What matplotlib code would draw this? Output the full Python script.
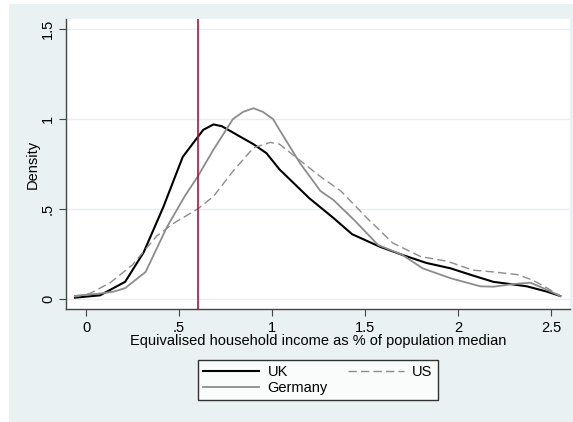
import numpy as np
import matplotlib.pyplot as plt
from matplotlib.patches import Rectangle

plt.rcParams['font.family'] = ['Liberation Sans', 'DejaVu Sans']

# kernel density estimates, read off as (income, density)
uk_x = [-0.06, 0.075, 0.147, 0.21, 0.31, 0.415, 0.52, 0.586, 0.63, 0.685, 0.73, 0.90, 0.97, 1.04, 1.15, 1.20, 1.33, 1.43, 1.58, 1.70, 1.83, 1.96, 2.08, 2.19, 2.30, 2.37, 2.48, 2.55]
uk_y = [0.007, 0.02, 0.06, 0.095, 0.26, 0.51, 0.79, 0.88, 0.94, 0.97, 0.96, 0.86, 0.81, 0.72, 0.61, 0.56, 0.45, 0.36, 0.29, 0.245, 0.20, 0.17, 0.13, 0.095, 0.08, 0.07, 0.04, 0.016]

us_x = [-0.06, 0.02, 0.13, 0.25, 0.38, 0.47, 0.6, 0.685, 0.79, 0.90, 0.99, 1.04, 1.15, 1.26, 1.37, 1.51, 1.65, 1.80, 1.94, 2.08, 2.19, 2.32, 2.40, 2.48, 2.55]
us_y = [0.012, 0.03, 0.09, 0.19, 0.35, 0.42, 0.50, 0.57, 0.71, 0.84, 0.87, 0.86, 0.77, 0.68, 0.60, 0.45, 0.31, 0.235, 0.21, 0.16, 0.15, 0.135, 0.105, 0.06, 0.016]

de_x = [-0.06, 0.075, 0.147, 0.21, 0.32, 0.435, 0.53, 0.60, 0.685, 0.79, 0.845, 0.90, 0.95, 1.005, 1.04, 1.15, 1.26, 1.33, 1.44, 1.57, 1.70, 1.81, 1.96, 2.12, 2.19, 2.30, 2.39, 2.48, 2.55]
de_y = [0.017, 0.03, 0.04, 0.06, 0.15, 0.40, 0.57, 0.68, 0.83, 1.00, 1.04, 1.06, 1.04, 1.00, 0.94, 0.755, 0.60, 0.55, 0.44, 0.30, 0.245, 0.17, 0.115, 0.07, 0.068, 0.083, 0.09, 0.05, 0.016]

poverty_line = 0.6
xticks = [0, 0.5, 1, 1.5, 2, 2.5]
xlabels = ['0', '.5', '1', '1.5', '2', '2.5']
yticks = [0, 0.5, 1, 1.5]
ylabels = ['0', '.5', '1', '1.5']

bg = '#eaf1f3'
fig = plt.figure(figsize=(5.73, 4.22), dpi=100)
fig.patch.set_facecolor('white')
fig.patches.append(Rectangle((9 / 573, 0), 1 - 9 / 573, 1 - 4 / 422,
                             transform=fig.transFigure, facecolor=bg,
                             edgecolor='none', zorder=-10))

ax = fig.add_axes([66 / 573, 1 - 309 / 422, 504 / 573, 290 / 422])
ax.set_facecolor('white')

l_uk, = ax.plot(uk_x, uk_y, color='black', lw=1.5, label='UK')
l_us, = ax.plot(us_x, us_y, color='#8c8c8c', lw=1.0, ls=(0, (6, 3)), label='US')
l_de, = ax.plot(de_x, de_y, color='#8c8c8c', lw=1.3, label='Germany')
ax.axvline(poverty_line, color='#b0123f', lw=1.2)

ax.set_xlim(-0.108, 2.602)
ax.set_ylim(-0.056, 1.556)
ax.set_xticks(xticks, xlabels)
ax.set_yticks(yticks, ylabels, rotation=90, va='center')
ax.grid(axis='y', color='#e6eef0', lw=1.0)
ax.set_axisbelow(True)

for s in ['top', 'right']:
    ax.spines[s].set_visible(False)
for s in ['left', 'bottom']:
    ax.spines[s].set_color('#444444')
    ax.spines[s].set_linewidth(1.0)
ax.tick_params(length=5, width=0.8, color='#444444', labelsize=10.5, pad=3)
ax.tick_params(axis='x', pad=4)

ax.set_xlabel('Equivalised household income as % of population median', fontsize=10.5, labelpad=-1)
ax.set_ylabel('Density', fontsize=10.5, labelpad=1)

# column-major fill: UK/Germany in the first column, US in the second
leg = fig.legend([l_uk, l_de, l_us], ['UK', 'Germany', 'US'],
                 loc='center', bbox_to_anchor=(318 / 573, 1 - 380 / 422), ncol=2,
                 fontsize=10.5, frameon=True, fancybox=False, edgecolor='black',
                 handlelength=3.8, columnspacing=1.4, borderpad=0.35,
                 labelspacing=0.15, handletextpad=0.6)
leg.get_frame().set_linewidth(1.0)
leg.get_frame().set_facecolor('white')

fig.savefig('out.png', dpi=100, facecolor=fig.get_facecolor())
